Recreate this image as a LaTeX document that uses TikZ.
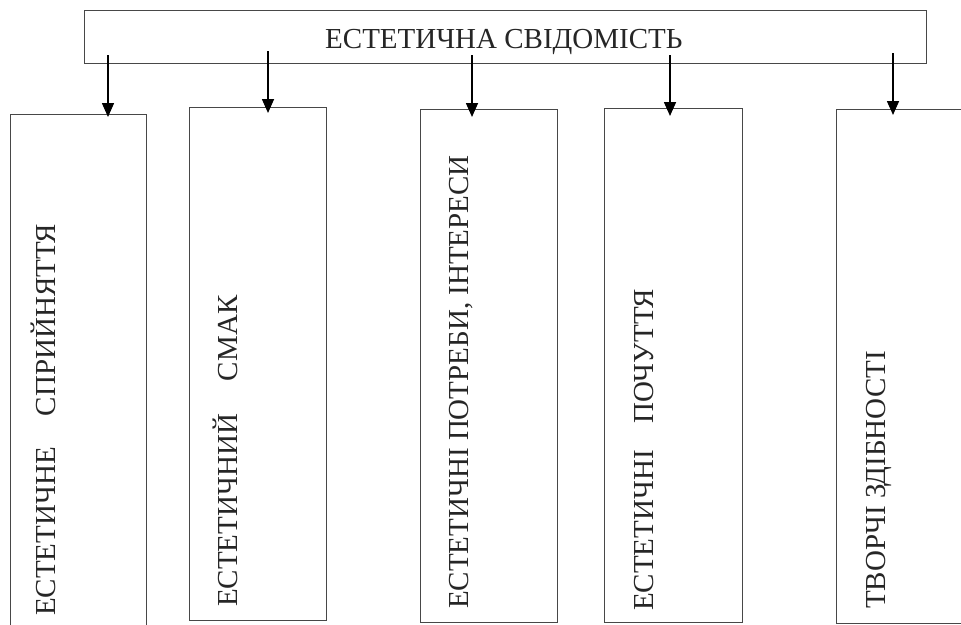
\documentclass[tikz,border=0pt]{standalone}
\usepackage{fontspec}
\setmainfont{Liberation Serif}
\usetikzlibrary{arrows.meta}
\begin{document}
\begin{tikzpicture}[x=1pt,y=-1pt,
  boxst/.style={draw=black!72, line width=1.4pt, inner sep=0pt, anchor=north west},
  lbl/.style={rotate=90, anchor=base west, inner sep=0pt, text=black!85, font=\fontsize{29}{35}\selectfont},
  ttl/.style={anchor=base west, inner sep=0pt, text=black!85, font=\fontsize{29}{35}\selectfont},
  arr/.style={-{Triangle[width=12pt,length=14pt]}, line width=1.6pt, black}]
\useasboundingbox (0,0) rectangle (961,624);
% top box
\node[boxst, minimum width=842pt, minimum height=53pt] (top) at (84,10) {};
\node[ttl] (tt) at (325,48) {ЕСТЕТИЧНА СВІДОМІСТЬ};
% lower boxes
\node[boxst, minimum width=136pt, minimum height=530pt] (b1) at (10,114) {};
\node[boxst, minimum width=137pt, minimum height=513pt] (b2) at (189,107) {};
\node[boxst, minimum width=137pt, minimum height=513pt] (b3) at (420,109) {};
\node[boxst, minimum width=138pt, minimum height=514pt] (b4) at (604,108) {};
\node[boxst, minimum width=150pt, minimum height=514pt] (b5) at (836,109) {};
% labels
\node[lbl] (l1) at (55,616) {ЕСТЕТИЧНЕ\hspace{31pt}СПРИЙНЯТТЯ};
\node[lbl] (l2) at (237,607) {ЕСТЕТИЧНИЙ\hspace{33pt}СМАК};
\node[lbl] (l3) at (468,609) {ЕСТЕТИЧНІ ПОТРЕБИ, ІНТЕРЕСИ};
\node[lbl] (l4) at (653,611) {ЕСТЕТИЧНІ\hspace{27pt}ПОЧУТТЯ};
\node[lbl] (l5) at (885,609) {ТВОРЧІ ЗДІБНОСТІ};
% arrow starts
\coordinate (a1) at (108,55);
\coordinate (a2) at (268,51);
\coordinate (a3) at (472,55);
\coordinate (a4) at (670,55);
\coordinate (a5) at (893,53);
\draw[arr] (a1) -- ([yshift=-3pt]b1.north -| a1);
\draw[arr] (a2) -- ([yshift=-6pt]b2.north -| a2);
\draw[arr] (a3) -- ([yshift=-8pt]b3.north -| a3);
\draw[arr] (a4) -- ([yshift=-8pt]b4.north -| a4);
\draw[arr] (a5) -- ([yshift=-6pt]b5.north -| a5);
\end{tikzpicture}
\end{document}
